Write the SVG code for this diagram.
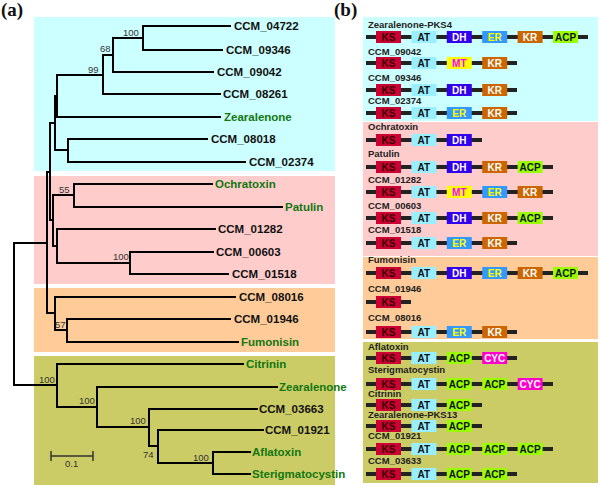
<svg xmlns="http://www.w3.org/2000/svg" width="600" height="485" viewBox="0 0 600 485">
<style>
.bg-c{fill:#ccffff}.bg-p{fill:#ffcccc}.bg-o{fill:#ffcc99}.bg-g{fill:#cccc66}
.br{stroke:#000;stroke-width:2;fill:none;stroke-linecap:square}
.lf{font-family:"Liberation Sans",Arial,sans-serif;font-weight:bold;font-size:11.5px;fill:#111}
.gr{fill:#117711}
.bs{font-family:"Liberation Sans",Arial,sans-serif;font-size:9.5px;fill:#333}
.pl{font-family:"Liberation Serif","Times New Roman",serif;font-weight:bold;font-size:19px;fill:#111}
.rl{font-family:"Liberation Sans",Arial,sans-serif;font-weight:bold;font-size:9.5px;fill:#222}
.bb{stroke:#222;stroke-width:4}
.dt{font-family:"Liberation Sans",Arial,sans-serif;font-weight:bold;font-size:10px;text-anchor:middle}
.KS{fill:#cc0033}.AT{fill:#99eeff}.DH{fill:#3300ee}.ER{fill:#3399ff}.KR{fill:#cc6600}.ACP{fill:#99ff00}.MT{fill:#ffff00}.CYC{fill:#ff00cc}
.tKS{fill:#330000}.tAT{fill:#111}.tDH{fill:#fff}.tER{fill:#ffff00}.tKR{fill:#fff}.tACP{fill:#111}.tMT{fill:#ff00ff}.tCYC{fill:#fff}
</style>
<rect width="600" height="485" fill="#fff"/>
<g id="backgrounds">
<rect class="bg-c" x="34" y="17" width="301" height="154"/>
<rect class="bg-p" x="34" y="176" width="301" height="108"/>
<rect class="bg-o" x="34" y="288" width="301" height="64"/>
<rect class="bg-g" x="34" y="356" width="301" height="129"/>
<rect class="bg-c" x="363" y="17" width="235" height="104"/>
<rect class="bg-p" x="363" y="122" width="235" height="134"/>
<rect class="bg-o" x="363" y="257" width="235" height="82"/>
<rect class="bg-g" x="363" y="342" width="235" height="141"/>
</g>
<text class="pl" x="1" y="16">(a)</text>
<text class="pl" x="334" y="16">(b)</text>
<g id="connectors">
<path class="br" d="M143,26H230M143,50H222M143,26V50M113,38H143M113,72H213M113,38V72M103,55H113M103,94H220M103,55V94M57,75H103M57,117H220M57,75V117M55,96H57M68,139H207M68,162H245M68,139V162M55,150H68M55,96V150M50,123H55"/>
<path class="br" d="M74,184H212M74,207H282M74,184V207M53,195H74M57,229H215M130,252H213M130,274H228M130,252V274M57,263H130M57,229V263M53,246H57M53,195V246M50,220H53M50,123V220M47,172H50"/>
<path class="br" d="M55,297H235M67,319H230M67,342H238M67,319V342M55,330H67M55,297V330M47,313H55M47,172V313M14,243H47"/>
<path class="br" d="M213,452H250M213,474H250M213,452V474M158,463H213M158,430H263M158,430V463M149,446H158M149,409H257M149,409V446M97,427H149M97,387H277M97,387V427M57,407H97M57,364H243M57,364V407M14,385H57M14,243V385"/>
<path stroke="#333" stroke-width="1.5" fill="none" d="M51,456H93M51,451V461M93,451V461"/>
</g>
<g id="bootstrap">
<text class="bs" x="123" y="36">100</text>
<text class="bs" x="100" y="52">68</text>
<text class="bs" x="88" y="73">99</text>
<text class="bs" x="59" y="193">55</text>
<text class="bs" x="113" y="260">100</text>
<text class="bs" x="55" y="328">57</text>
<text class="bs" x="39" y="383">100</text>
<text class="bs" x="79" y="404">100</text>
<text class="bs" x="130" y="424">100</text>
<text class="bs" x="143" y="458">74</text>
<text class="bs" x="193" y="461">100</text>
<text class="bs" x="65" y="467">0.1</text>
</g>
<g id="leaves">
<g id="t-CCM_04722"><text class="lf" x="234" y="30">CCM_04722</text></g>
<g id="t-CCM_09346"><text class="lf" x="226" y="54">CCM_09346</text></g>
<g id="t-CCM_09042"><text class="lf" x="217" y="76">CCM_09042</text></g>
<g id="t-CCM_08261"><text class="lf" x="223" y="98">CCM_08261</text></g>
<g id="t-Zearalenone1"><text class="lf gr" x="224" y="121">Zearalenone</text></g>
<g id="t-CCM_08018"><text class="lf" x="211" y="143">CCM_08018</text></g>
<g id="t-CCM_02374"><text class="lf" x="249" y="166">CCM_02374</text></g>
<g id="t-Ochratoxin"><text class="lf gr" x="215" y="188">Ochratoxin</text></g>
<g id="t-Patulin"><text class="lf gr" x="285" y="211">Patulin</text></g>
<g id="t-CCM_01282"><text class="lf" x="218" y="233">CCM_01282</text></g>
<g id="t-CCM_00603"><text class="lf" x="216" y="256">CCM_00603</text></g>
<g id="t-CCM_01518"><text class="lf" x="232" y="278">CCM_01518</text></g>
<g id="t-CCM_08016"><text class="lf" x="239" y="301">CCM_08016</text></g>
<g id="t-CCM_01946"><text class="lf" x="234" y="323">CCM_01946</text></g>
<g id="t-Fumonisin"><text class="lf gr" x="241" y="346">Fumonisin</text></g>
<g id="t-Citrinin"><text class="lf gr" x="246" y="368">Citrinin</text></g>
<g id="t-Zearalenone2"><text class="lf gr" x="279" y="391">Zearalenone</text></g>
<g id="t-CCM_03663"><text class="lf" x="259" y="413">CCM_03663</text></g>
<g id="t-CCM_01921"><text class="lf" x="265" y="434">CCM_01921</text></g>
<g id="t-Aflatoxin"><text class="lf gr" x="252" y="456">Aflatoxin</text></g>
<g id="t-Sterigmatocystin"><text class="lf gr" x="252" y="478">Sterigmatocystin</text></g>
</g>
<g id="domains">
<g id="r-Zearalenone-PKS4" transform="translate(0,37)">
<text class="rl gr" x="368" y="-9">Zearalenone-PKS4</text>
<line class="bb" x1="366" y1="0" x2="588" y2="0"/>
<rect class="KS" x="376" y="-6" width="25" height="12"/><text class="dt tKS" x="388.5" y="3.5">KS</text>
<rect class="AT" x="411.4" y="-6" width="25" height="12"/><text class="dt tAT" x="423.9" y="3.5">AT</text>
<rect class="DH" x="446.8" y="-6" width="25" height="12"/><text class="dt tDH" x="459.3" y="3.5">DH</text>
<rect class="ER" x="482.2" y="-6" width="25" height="12"/><text class="dt tER" x="494.7" y="3.5">ER</text>
<rect class="KR" x="517.6" y="-6" width="25" height="12"/><text class="dt tKR" x="530.1" y="3.5">KR</text>
<rect class="ACP" x="553" y="-6" width="25" height="12"/><text class="dt tACP" x="565.5" y="3.5">ACP</text>
</g>
<g id="r-CCM_09042" transform="translate(0,63)">
<text class="rl" x="368" y="-8">CCM_09042</text>
<line class="bb" x1="366" y1="0" x2="517" y2="0"/>
<rect class="KS" x="376" y="-6" width="25" height="12"/><text class="dt tKS" x="388.5" y="3.5">KS</text>
<rect class="AT" x="411.4" y="-6" width="25" height="12"/><text class="dt tAT" x="423.9" y="3.5">AT</text>
<rect class="MT" x="446.8" y="-6" width="25" height="12"/><text class="dt tMT" x="459.3" y="3.5">MT</text>
<rect class="KR" x="482.2" y="-6" width="25" height="12"/><text class="dt tKR" x="494.7" y="3.5">KR</text>
</g>
<g id="r-CCM_09346" transform="translate(0,90)">
<text class="rl" x="368" y="-9">CCM_09346</text>
<line class="bb" x1="366" y1="0" x2="517" y2="0"/>
<rect class="KS" x="376" y="-6" width="25" height="12"/><text class="dt tKS" x="388.5" y="3.5">KS</text>
<rect class="AT" x="411.4" y="-6" width="25" height="12"/><text class="dt tAT" x="423.9" y="3.5">AT</text>
<rect class="DH" x="446.8" y="-6" width="25" height="12"/><text class="dt tDH" x="459.3" y="3.5">DH</text>
<rect class="KR" x="482.2" y="-6" width="25" height="12"/><text class="dt tKR" x="494.7" y="3.5">KR</text>
</g>
<g id="r-CCM_02374" transform="translate(0,113)">
<text class="rl" x="368" y="-9">CCM_02374</text>
<line class="bb" x1="366" y1="0" x2="517" y2="0"/>
<rect class="KS" x="376" y="-6" width="25" height="12"/><text class="dt tKS" x="388.5" y="3.5">KS</text>
<rect class="AT" x="411.4" y="-6" width="25" height="12"/><text class="dt tAT" x="423.9" y="3.5">AT</text>
<rect class="ER" x="446.8" y="-6" width="25" height="12"/><text class="dt tER" x="459.3" y="3.5">ER</text>
<rect class="KR" x="482.2" y="-6" width="25" height="12"/><text class="dt tKR" x="494.7" y="3.5">KR</text>
</g>
<g id="r-Ochratoxin" transform="translate(0,140)">
<text class="rl gr" x="368" y="-10">Ochratoxin</text>
<line class="bb" x1="366" y1="0" x2="482" y2="0"/>
<rect class="KS" x="376" y="-6" width="25" height="12"/><text class="dt tKS" x="388.5" y="3.5">KS</text>
<rect class="AT" x="411.4" y="-6" width="25" height="12"/><text class="dt tAT" x="423.9" y="3.5">AT</text>
<rect class="DH" x="446.8" y="-6" width="25" height="12"/><text class="dt tDH" x="459.3" y="3.5">DH</text>
</g>
<g id="r-Patulin" transform="translate(0,167)">
<text class="rl gr" x="368" y="-10">Patulin</text>
<line class="bb" x1="366" y1="0" x2="553" y2="0"/>
<rect class="KS" x="376" y="-6" width="25" height="12"/><text class="dt tKS" x="388.5" y="3.5">KS</text>
<rect class="AT" x="411.4" y="-6" width="25" height="12"/><text class="dt tAT" x="423.9" y="3.5">AT</text>
<rect class="DH" x="446.8" y="-6" width="25" height="12"/><text class="dt tDH" x="459.3" y="3.5">DH</text>
<rect class="KR" x="482.2" y="-6" width="25" height="12"/><text class="dt tKR" x="494.7" y="3.5">KR</text>
<rect class="ACP" x="517.6" y="-6" width="25" height="12"/><text class="dt tACP" x="530.1" y="3.5">ACP</text>
</g>
<g id="r-CCM_01282" transform="translate(0,192)">
<text class="rl" x="368" y="-9">CCM_01282</text>
<line class="bb" x1="366" y1="0" x2="553" y2="0"/>
<rect class="KS" x="376" y="-6" width="25" height="12"/><text class="dt tKS" x="388.5" y="3.5">KS</text>
<rect class="AT" x="411.4" y="-6" width="25" height="12"/><text class="dt tAT" x="423.9" y="3.5">AT</text>
<rect class="MT" x="446.8" y="-6" width="25" height="12"/><text class="dt tMT" x="459.3" y="3.5">MT</text>
<rect class="ER" x="482.2" y="-6" width="25" height="12"/><text class="dt tER" x="494.7" y="3.5">ER</text>
<rect class="KR" x="517.6" y="-6" width="25" height="12"/><text class="dt tKR" x="530.1" y="3.5">KR</text>
</g>
<g id="r-CCM_00603" transform="translate(0,218)">
<text class="rl" x="368" y="-9">CCM_00603</text>
<line class="bb" x1="366" y1="0" x2="553" y2="0"/>
<rect class="KS" x="376" y="-6" width="25" height="12"/><text class="dt tKS" x="388.5" y="3.5">KS</text>
<rect class="AT" x="411.4" y="-6" width="25" height="12"/><text class="dt tAT" x="423.9" y="3.5">AT</text>
<rect class="DH" x="446.8" y="-6" width="25" height="12"/><text class="dt tDH" x="459.3" y="3.5">DH</text>
<rect class="KR" x="482.2" y="-6" width="25" height="12"/><text class="dt tKR" x="494.7" y="3.5">KR</text>
<rect class="ACP" x="517.6" y="-6" width="25" height="12"/><text class="dt tACP" x="530.1" y="3.5">ACP</text>
</g>
<g id="r-CCM_01518" transform="translate(0,243)">
<text class="rl" x="368" y="-10">CCM_01518</text>
<line class="bb" x1="366" y1="0" x2="517" y2="0"/>
<rect class="KS" x="376" y="-6" width="25" height="12"/><text class="dt tKS" x="388.5" y="3.5">KS</text>
<rect class="AT" x="411.4" y="-6" width="25" height="12"/><text class="dt tAT" x="423.9" y="3.5">AT</text>
<rect class="ER" x="446.8" y="-6" width="25" height="12"/><text class="dt tER" x="459.3" y="3.5">ER</text>
<rect class="KR" x="482.2" y="-6" width="25" height="12"/><text class="dt tKR" x="494.7" y="3.5">KR</text>
</g>
<g id="r-Fumonisin" transform="translate(0,273)">
<text class="rl gr" x="368" y="-10">Fumonisin</text>
<line class="bb" x1="366" y1="0" x2="588" y2="0"/>
<rect class="KS" x="376" y="-6" width="25" height="12"/><text class="dt tKS" x="388.5" y="3.5">KS</text>
<rect class="AT" x="411.4" y="-6" width="25" height="12"/><text class="dt tAT" x="423.9" y="3.5">AT</text>
<rect class="DH" x="446.8" y="-6" width="25" height="12"/><text class="dt tDH" x="459.3" y="3.5">DH</text>
<rect class="ER" x="482.2" y="-6" width="25" height="12"/><text class="dt tER" x="494.7" y="3.5">ER</text>
<rect class="KR" x="517.6" y="-6" width="25" height="12"/><text class="dt tKR" x="530.1" y="3.5">KR</text>
<rect class="ACP" x="553" y="-6" width="25" height="12"/><text class="dt tACP" x="565.5" y="3.5">ACP</text>
</g>
<g id="r-CCM_01946" transform="translate(0,302)">
<text class="rl" x="368" y="-10">CCM_01946</text>
<line class="bb" x1="366" y1="0" x2="411" y2="0"/>
<rect class="KS" x="376" y="-6" width="25" height="12"/><text class="dt tKS" x="388.5" y="3.5">KS</text>
</g>
<g id="r-CCM_08016" transform="translate(0,332)">
<text class="rl" x="368" y="-11">CCM_08016</text>
<line class="bb" x1="366" y1="0" x2="517" y2="0"/>
<rect class="KS" x="376" y="-6" width="25" height="12"/><text class="dt tKS" x="388.5" y="3.5">KS</text>
<rect class="AT" x="411.4" y="-6" width="25" height="12"/><text class="dt tAT" x="423.9" y="3.5">AT</text>
<rect class="ER" x="446.8" y="-6" width="25" height="12"/><text class="dt tER" x="459.3" y="3.5">ER</text>
<rect class="KR" x="482.2" y="-6" width="25" height="12"/><text class="dt tKR" x="494.7" y="3.5">KR</text>
</g>
<g id="r-Aflatoxin" transform="translate(0,358)">
<text class="rl gr" x="368" y="-8">Aflatoxin</text>
<line class="bb" x1="366" y1="0" x2="517" y2="0"/>
<rect class="KS" x="376" y="-6" width="25" height="12"/><text class="dt tKS" x="388.5" y="3.5">KS</text>
<rect class="AT" x="411.4" y="-6" width="25" height="12"/><text class="dt tAT" x="423.9" y="3.5">AT</text>
<rect class="ACP" x="446.8" y="-6" width="25" height="12"/><text class="dt tACP" x="459.3" y="3.5">ACP</text>
<rect class="CYC" x="482.2" y="-6" width="25" height="12"/><text class="dt tCYC" x="494.7" y="3.5">CYC</text>
</g>
<g id="r-Sterigmatocystin" transform="translate(0,384)">
<text class="rl gr" x="368" y="-11">Sterigmatocystin</text>
<line class="bb" x1="366" y1="0" x2="553" y2="0"/>
<rect class="KS" x="376" y="-6" width="25" height="12"/><text class="dt tKS" x="388.5" y="3.5">KS</text>
<rect class="AT" x="411.4" y="-6" width="25" height="12"/><text class="dt tAT" x="423.9" y="3.5">AT</text>
<rect class="ACP" x="446.8" y="-6" width="25" height="12"/><text class="dt tACP" x="459.3" y="3.5">ACP</text>
<rect class="ACP" x="482.2" y="-6" width="25" height="12"/><text class="dt tACP" x="494.7" y="3.5">ACP</text>
<rect class="CYC" x="517.6" y="-6" width="25" height="12"/><text class="dt tCYC" x="530.1" y="3.5">CYC</text>
</g>
<g id="r-Citrinin" transform="translate(0,405)">
<text class="rl gr" x="368" y="-8">Citrinin</text>
<line class="bb" x1="366" y1="0" x2="482" y2="0"/>
<rect class="KS" x="376" y="-6" width="25" height="12"/><text class="dt tKS" x="388.5" y="3.5">KS</text>
<rect class="AT" x="411.4" y="-6" width="25" height="12"/><text class="dt tAT" x="423.9" y="3.5">AT</text>
<rect class="ACP" x="446.8" y="-6" width="25" height="12"/><text class="dt tACP" x="459.3" y="3.5">ACP</text>
</g>
<g id="r-Zearalenone-PKS13" transform="translate(0,426)">
<text class="rl gr" x="368" y="-8">Zearalenone-PKS13</text>
<line class="bb" x1="366" y1="0" x2="482" y2="0"/>
<rect class="KS" x="376" y="-6" width="25" height="12"/><text class="dt tKS" x="388.5" y="3.5">KS</text>
<rect class="AT" x="411.4" y="-6" width="25" height="12"/><text class="dt tAT" x="423.9" y="3.5">AT</text>
<rect class="ACP" x="446.8" y="-6" width="25" height="12"/><text class="dt tACP" x="459.3" y="3.5">ACP</text>
</g>
<g id="r-CCM_01921" transform="translate(0,449)">
<text class="rl" x="368" y="-10">CCM_01921</text>
<line class="bb" x1="366" y1="0" x2="553" y2="0"/>
<rect class="KS" x="376" y="-6" width="25" height="12"/><text class="dt tKS" x="388.5" y="3.5">KS</text>
<rect class="AT" x="411.4" y="-6" width="25" height="12"/><text class="dt tAT" x="423.9" y="3.5">AT</text>
<rect class="ACP" x="446.8" y="-6" width="25" height="12"/><text class="dt tACP" x="459.3" y="3.5">ACP</text>
<rect class="ACP" x="482.2" y="-6" width="25" height="12"/><text class="dt tACP" x="494.7" y="3.5">ACP</text>
<rect class="ACP" x="517.6" y="-6" width="25" height="12"/><text class="dt tACP" x="530.1" y="3.5">ACP</text>
</g>
<g id="r-CCM_03633" transform="translate(0,474)">
<text class="rl" x="368" y="-10">CCM_03633</text>
<line class="bb" x1="366" y1="0" x2="517" y2="0"/>
<rect class="KS" x="376" y="-6" width="25" height="12"/><text class="dt tKS" x="388.5" y="3.5">KS</text>
<rect class="AT" x="411.4" y="-6" width="25" height="12"/><text class="dt tAT" x="423.9" y="3.5">AT</text>
<rect class="ACP" x="446.8" y="-6" width="25" height="12"/><text class="dt tACP" x="459.3" y="3.5">ACP</text>
<rect class="ACP" x="482.2" y="-6" width="25" height="12"/><text class="dt tACP" x="494.7" y="3.5">ACP</text>
</g>
</g>
</svg>
